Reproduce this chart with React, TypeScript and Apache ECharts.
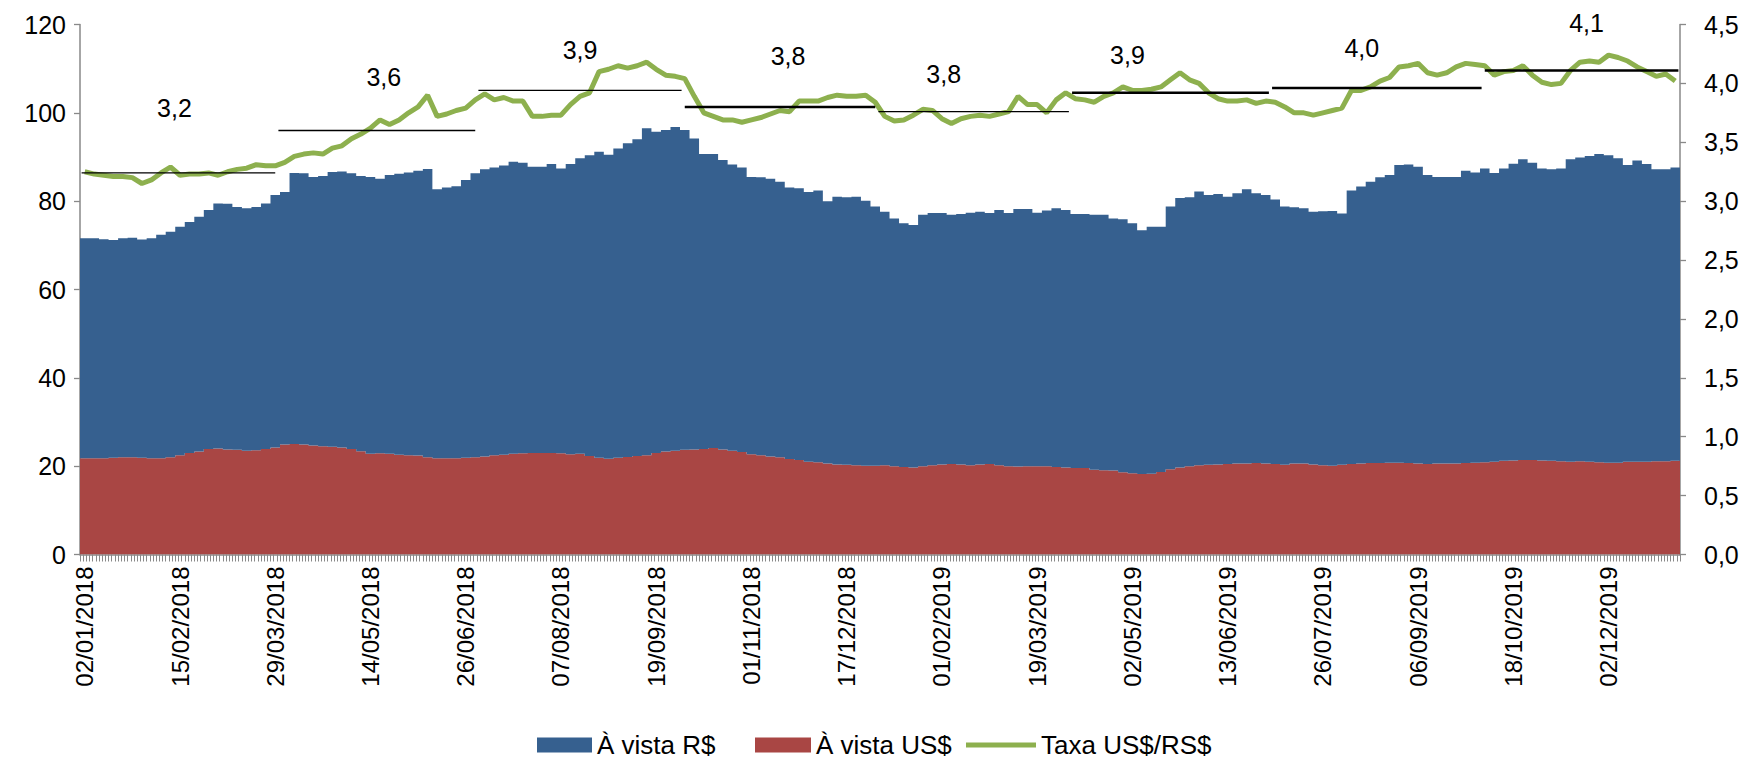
import React, { useEffect, useRef } from "react";
import * as echarts from "echarts";

// x-axis tick labels (one every 10 periods of 3 trading days)
const tickLabels = [
  "02/01/2018", "15/02/2018", "29/03/2018", "14/05/2018", "26/06/2018", "07/08/2018",
  "19/09/2018", "01/11/2018", "17/12/2018", "01/02/2019", "19/03/2019", "02/05/2019",
  "13/06/2019", "26/07/2019", "06/09/2019", "18/10/2019", "02/12/2019",
];

// top of the stacked column (À vista R$ + À vista US$), one value per 3 trading days
const stackTop = [
  71.6, 71.6, 71.4, 71.2, 71.6, 71.7, 71.3, 71.6, 72.4, 73.1,
  74.2, 75.3, 76.5, 78.0, 79.5, 79.4, 78.7, 78.4, 78.7, 79.5,
  81.4, 82.1, 86.4, 86.3, 85.5, 85.7, 86.6, 86.7, 86.3, 85.7,
  85.5, 85.1, 85.9, 86.2, 86.5, 86.9, 87.3, 82.7, 83.1, 83.4,
  84.8, 86.3, 87.2, 87.6, 88.1, 88.9, 88.7, 87.8, 87.8, 88.4,
  87.4, 88.4, 89.7, 90.4, 91.2, 90.5, 91.9, 93.1, 94.0, 96.5,
  95.7, 96.1, 96.8, 96.1, 94.2, 90.7, 90.7, 89.3, 88.3, 87.6,
  85.5, 85.4, 85.1, 84.4, 83.1, 82.9, 82.1, 82.4, 80.0, 81.0,
  80.9, 81.0, 80.1, 78.8, 77.6, 76.1, 75.0, 74.6, 76.9, 77.3,
  77.3, 76.9, 77.1, 77.4, 77.6, 77.3, 78.0, 77.3, 78.2, 78.2,
  77.4, 77.9, 78.4, 78.0, 77.1, 77.1, 76.9, 76.9, 76.1, 75.9,
  75.0, 73.4, 74.2, 74.2, 78.8, 80.7, 80.9, 82.2, 81.4, 81.6,
  81.0, 81.8, 82.7, 81.8, 81.4, 80.4, 78.8, 78.6, 78.4, 77.6,
  77.7, 77.8, 77.2, 82.4, 83.3, 84.4, 85.4, 85.9, 88.2, 88.3,
  87.8, 85.9, 85.5, 85.5, 85.5, 86.9, 86.5, 87.4, 86.4, 87.4,
  88.5, 89.5, 88.7, 87.4, 87.2, 87.4, 89.5, 89.9, 90.2, 90.7,
  90.4, 89.7, 88.2, 89.2, 88.4, 87.2, 87.2, 87.6,
];

// À vista US$ (bottom of the stack)
const avistaUS = [
  21.8, 21.8, 21.8, 21.9, 22.0, 22.0, 21.9, 21.8, 21.8, 22.0,
  22.5, 23.0, 23.3, 23.9, 24.0, 23.8, 23.7, 23.5, 23.6, 23.9,
  24.2, 24.9, 25.0, 24.9, 24.7, 24.5, 24.4, 24.2, 23.9, 23.4,
  22.8, 22.9, 22.8, 22.6, 22.5, 22.4, 22.0, 21.8, 21.8, 21.8,
  21.9, 22.0, 22.2, 22.5, 22.6, 22.8, 22.9, 23.0, 23.0, 23.0,
  22.9, 22.7, 22.8, 22.3, 21.9, 21.7, 21.9, 22.1, 22.3, 22.5,
  23.0, 23.3, 23.5, 23.7, 23.8, 23.9, 24.1, 23.8, 23.5, 23.2,
  22.7, 22.5, 22.2, 22.0, 21.6, 21.4, 21.0, 20.9, 20.6, 20.4,
  20.3, 20.2, 20.1, 20.1, 20.2, 20.0, 19.8, 19.7, 20.0, 20.2,
  20.4, 20.5, 20.4, 20.2, 20.4, 20.5, 20.2, 20.0, 19.9, 20.0,
  20.0, 20.0, 19.8, 19.7, 19.6, 19.6, 19.2, 19.1, 19.0, 18.6,
  18.4, 18.2, 18.3, 18.7, 19.3, 19.7, 20.0, 20.2, 20.3, 20.4,
  20.5, 20.6, 20.6, 20.7, 20.6, 20.5, 20.3, 20.6, 20.6, 20.4,
  20.2, 20.1, 20.3, 20.5, 20.6, 20.7, 20.7, 20.8, 20.8, 20.7,
  20.6, 20.5, 20.6, 20.6, 20.6, 20.7, 20.8, 20.9, 21.0, 21.2,
  21.3, 21.4, 21.4, 21.3, 21.2, 21.1, 21.0, 21.1, 21.0, 20.9,
  20.8, 20.8, 21.0, 21.0, 21.0, 21.1, 21.1, 21.2,
];

// Taxa US$/R$ (right axis)
const taxa = [
  3.25, 3.23, 3.22, 3.21, 3.21, 3.20, 3.15, 3.18, 3.24, 3.29,
  3.22, 3.23, 3.23, 3.24, 3.22, 3.25, 3.27, 3.28, 3.31, 3.30,
  3.30, 3.33, 3.38, 3.40, 3.41, 3.40, 3.45, 3.47, 3.53, 3.57,
  3.62, 3.69, 3.65, 3.69, 3.75, 3.80, 3.90, 3.72, 3.74, 3.77,
  3.79, 3.86, 3.91, 3.86, 3.88, 3.85, 3.85, 3.72, 3.72, 3.73,
  3.73, 3.82, 3.89, 3.92, 4.10, 4.12, 4.15, 4.13, 4.15, 4.18,
  4.12, 4.07, 4.06, 4.04, 3.89, 3.75, 3.72, 3.69, 3.69, 3.67,
  3.69, 3.71, 3.74, 3.77, 3.76, 3.85, 3.85, 3.85, 3.88, 3.90,
  3.89, 3.89, 3.90, 3.84, 3.72, 3.68, 3.69, 3.73, 3.78, 3.77,
  3.70, 3.66, 3.70, 3.72, 3.73, 3.72, 3.74, 3.76, 3.89, 3.82,
  3.82, 3.75, 3.86, 3.92, 3.87, 3.86, 3.84, 3.89, 3.92, 3.97,
  3.94, 3.94, 3.95, 3.97, 4.03, 4.09, 4.03, 4.00, 3.92, 3.87,
  3.85, 3.85, 3.86, 3.83, 3.85, 3.84, 3.80, 3.75, 3.75, 3.73,
  3.75, 3.77, 3.79, 3.94, 3.94, 3.97, 4.02, 4.05, 4.14, 4.15,
  4.17, 4.09, 4.07, 4.09, 4.14, 4.17, 4.16, 4.15, 4.07, 4.10,
  4.11, 4.15, 4.07, 4.01, 3.99, 4.00, 4.11, 4.18, 4.19, 4.18,
  4.24, 4.22, 4.19, 4.14, 4.10, 4.06, 4.08, 4.02,
];

// quarterly average exchange rate and the trading days each quarter spans
const quarterAvg = [3.24, 3.60, 3.94, 3.80, 3.76, 3.92, 3.96, 4.11];
const quarterFirstDay = [0, 62, 125, 190, 251, 312, 375, 442];
const quarterLastDay = [61, 124, 189, 250, 311, 374, 441, 503];
const tradingDays = 504;

const avistaRS = stackTop.map((t, i) => Math.round((t - avistaUS[i]) * 10) / 10);
const periods = stackTop.map((_, i) => String(i));

// styling of the quarter lines / labels
const qLineWidth = [1.3, 1.3, 1.3, 2.5, 1.3, 2.5, 2.5, 2.5];
const qLabelDistance = [52, 41, 28, 38, 25, 25, 28, 35];
const qLabelDx = [-4, 7, 0, 8, -30, -43, -15, 5];

const FONT = "'Liberation Sans', Arial, sans-serif";
const FS = 25;
const BLUE = "#36608f";
const RED = "#a94644";
const GREEN = "#8db04e";
const AXIS = "#898989";
const fmtComma = (v: number) => v.toFixed(1).replace(".", ",");

const legendText = { fontSize: 26, fontFamily: FONT, color: "#000" };

export default function App() {
  const ref = useRef<HTMLDivElement>(null);
  useEffect(() => {
    if (!ref.current) return;
    const chart = echarts.init(ref.current, undefined, { renderer: "svg" });

    const quarterSeries = quarterAvg.map((avg, i) => {
      const a = quarterFirstDay[i] + 0.5;
      const b = quarterLastDay[i] + 0.5;
      const mid = (quarterFirstDay[i] + quarterLastDay[i] + 1) / 2;
      return {
        name: "q" + i,
        type: "line",
        xAxisIndex: 1,
        yAxisIndex: 1,
        symbol: "circle",
        symbolSize: 0.1,
        showSymbol: true,
        silent: true,
        z: 5,
        itemStyle: { color: "rgba(0,0,0,0)" },
        lineStyle: { color: "#000", width: qLineWidth[i] },
        data: [
          [a, avg],
          {
            value: [mid, avg],
            label: {
              show: true,
              position: "top",
              distance: qLabelDistance[i],
              offset: [qLabelDx[i], 0],
              formatter: () => fmtComma(avg),
              fontSize: FS,
              fontFamily: FONT,
              color: "#000",
            },
          },
          [b, avg],
        ],
      };
    });

    chart.setOption({
      animation: false,
      backgroundColor: "#fff",
      textStyle: { fontFamily: FONT },
      grid: { left: 80, right: 66, top: 24.5, bottom: 204.5, containLabel: false },
      legend: [
        {
          left: 537,
          top: 732,
          padding: 0,
          itemWidth: 55,
          itemHeight: 15,
          textStyle: legendText,
          data: [{ name: "À vista R$", icon: "rect" }],
        },
        {
          left: 755,
          top: 732,
          padding: 0,
          itemWidth: 56,
          itemHeight: 15,
          textStyle: legendText,
          data: [{ name: "À vista US$", icon: "rect" }],
        },
        {
          left: 966,
          top: 732,
          padding: 0,
          itemWidth: 70,
          itemHeight: 15,
          textStyle: legendText,
          data: [{ name: "Taxa US$/RS$", icon: "path://M0,0H140V10H0Z" }],
        },
      ],
      xAxis: [
        {
          type: "category",
          data: periods,
          boundaryGap: true,
          axisLine: { show: true, lineStyle: { color: AXIS, width: 1.5 } },
          axisTick: { show: false },
          axisLabel: {
            interval: 9,
            rotate: 90,
            margin: 12,
            fontSize: 24,
            fontFamily: FONT,
            color: "#000",
            formatter: (_v: string, idx: number) => tickLabels[idx / 10] ?? "",
          },
          splitLine: { show: false },
        },
        {
          type: "value",
          min: 0,
          max: tradingDays,
          interval: 1,
          position: "bottom",
          axisLine: { show: false },
          axisTick: { show: true, length: 7, lineStyle: { color: AXIS, width: 1 } },
          axisLabel: { show: false },
          splitLine: { show: false },
        },
      ],
      yAxis: [
        {
          type: "value",
          min: 0,
          max: 120,
          interval: 20,
          axisLine: { show: true, lineStyle: { color: AXIS, width: 1.5 } },
          axisTick: { show: true, length: 6, lineStyle: { color: AXIS, width: 1.3 } },
          axisLabel: { fontSize: FS, fontFamily: FONT, color: "#000", margin: 14 },
          splitLine: { show: false },
        },
        {
          type: "value",
          position: "right",
          min: 0,
          max: 4.5,
          interval: 0.5,
          axisLine: { show: true, lineStyle: { color: AXIS, width: 1.5 } },
          axisTick: { show: true, length: 6, lineStyle: { color: AXIS, width: 1.3 } },
          axisLabel: {
            fontSize: FS,
            fontFamily: FONT,
            color: "#000",
            margin: 24,
            formatter: (v: number) => fmtComma(v),
          },
          splitLine: { show: false },
        },
      ],
      series: [
        {
          name: "À vista US$",
          type: "bar",
          stack: "avista",
          large: true,
          largeThreshold: 20,
          barCategoryGap: "0%",
          barGap: "0%",
          itemStyle: { color: RED },
          data: avistaUS,
        },
        {
          name: "À vista R$",
          type: "bar",
          stack: "avista",
          large: true,
          largeThreshold: 20,
          itemStyle: { color: BLUE },
          data: avistaRS,
        },
        {
          name: "Taxa US$/RS$",
          type: "line",
          yAxisIndex: 1,
          symbol: "none",
          z: 4,
          itemStyle: { color: GREEN },
          lineStyle: { color: GREEN, width: 5 },
          data: taxa,
        },
        ...quarterSeries,
      ],
    });
    return () => chart.dispose();
  }, []);

  return (
    <div
      ref={ref}
      style={{ position: "absolute", left: 0, top: 0, width: 1746, height: 759, background: "#fff" }}
    />
  );
}
